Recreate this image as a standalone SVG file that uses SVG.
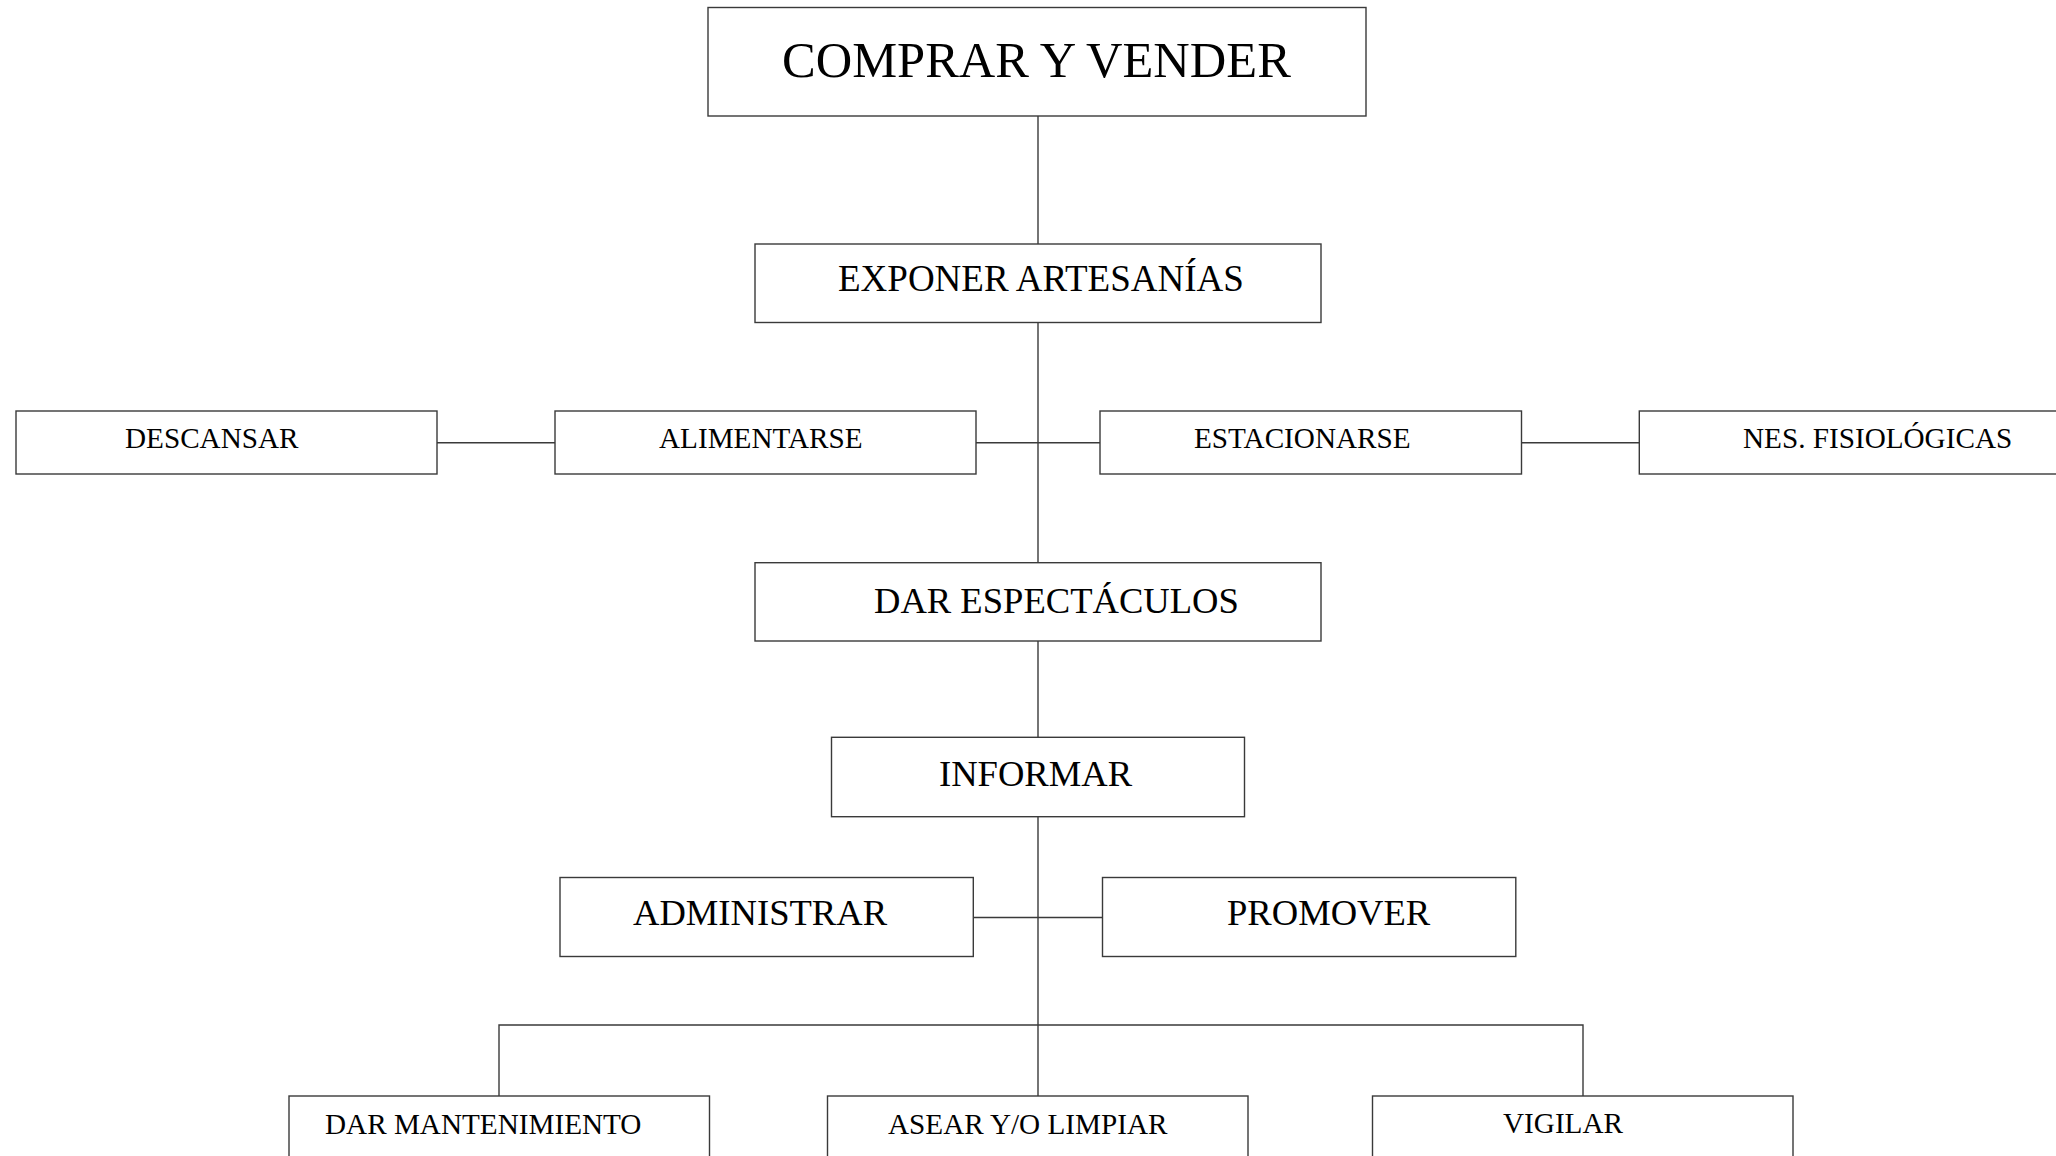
<svg xmlns="http://www.w3.org/2000/svg" width="2056" height="1156" viewBox="0 0 2056 1156">
<style>
.box{fill:#ffffff;stroke:#3a3a3a;stroke-width:1.4}
.ln{fill:none;stroke:#3a3a3a;stroke-width:1.4}
text{font-family:"Liberation Serif","Times New Roman",serif;fill:#000}
.xl{font-size:50.5px}
.md{font-size:36.6px}
.sm{font-size:29.2px}
</style>
<rect width="2056" height="1156" fill="#ffffff"/>
<g id="connectors">
<line class="ln" x1="1038" y1="116" x2="1038" y2="244"/>
<line class="ln" x1="1038" y1="322.5" x2="1038" y2="562.7"/>
<line class="ln" x1="1038" y1="641" x2="1038" y2="737.3"/>
<line class="ln" x1="1038" y1="816.7" x2="1038" y2="1096"/>
<line class="ln" x1="437" y1="442.7" x2="555" y2="442.7"/>
<line class="ln" x1="976" y1="442.7" x2="1100" y2="442.7"/>
<line class="ln" x1="1521.5" y1="442.7" x2="1639.3" y2="442.7"/>
<line class="ln" x1="973.3" y1="917.5" x2="1102.5" y2="917.5"/>
<polyline class="ln" points="499,1096 499,1025 1583,1025 1583,1096"/>
</g>
<g id="comprar-vender">
<rect class="box" x="708" y="7.5" width="658" height="108.5"/>
<text class="xl" x="782" y="77">COMPRAR Y VENDER</text>
</g>
<g id="exponer-artesanias">
<rect class="box" x="755" y="244" width="566" height="78.5"/>
<text class="md" x="838" y="291" style="font-size:37px">EXPONER ARTESANÍAS</text>
</g>
<g id="descansar">
<rect class="box" x="16" y="411" width="421" height="63"/>
<text class="sm" x="125" y="448">DESCANSAR</text>
</g>
<g id="alimentarse">
<rect class="box" x="555" y="411" width="421" height="63"/>
<text class="sm" x="659" y="448">ALIMENTARSE</text>
</g>
<g id="estacionarse">
<rect class="box" x="1100" y="411" width="421.5" height="63"/>
<text class="sm" x="1194" y="448">ESTACIONARSE</text>
</g>
<g id="nes-fisiologicas">
<rect class="box" x="1639.3" y="411" width="421" height="63"/>
<text class="sm" x="1743" y="448">NES. FISIOLÓGICAS</text>
</g>
<g id="dar-espectaculos">
<rect class="box" x="755" y="562.7" width="566" height="78.3"/>
<text class="md" x="874" y="613">DAR ESPECTÁCULOS</text>
</g>
<g id="informar">
<rect class="box" x="831.5" y="737.3" width="413" height="79.4"/>
<text class="md" x="939" y="786">INFORMAR</text>
</g>
<g id="administrar">
<rect class="box" x="560" y="877.5" width="413.3" height="79"/>
<text class="md" x="633" y="925">ADMINISTRAR</text>
</g>
<g id="promover">
<rect class="box" x="1102.5" y="877.5" width="413.3" height="79"/>
<text class="md" x="1227" y="925">PROMOVER</text>
</g>
<g id="dar-mantenimiento">
<rect class="box" x="289" y="1096" width="420.5" height="90"/>
<text class="sm" x="325" y="1134">DAR MANTENIMIENTO</text>
</g>
<g id="asear-limpiar">
<rect class="box" x="827.5" y="1096" width="420.5" height="90"/>
<text class="sm" x="888" y="1134">ASEAR Y/O LIMPIAR</text>
</g>
<g id="vigilar">
<rect class="box" x="1372.5" y="1096" width="420.5" height="90"/>
<text class="sm" x="1503" y="1133">VIGILAR</text>
</g>
</svg>
